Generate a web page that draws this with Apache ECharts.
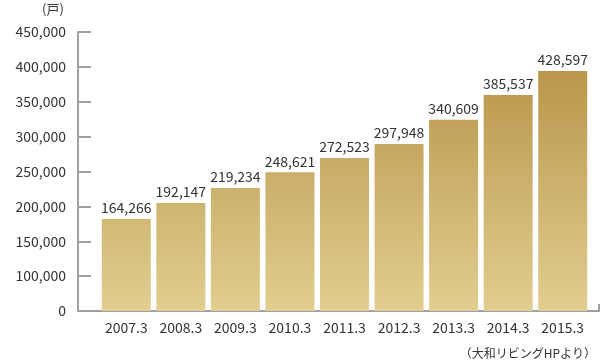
<!DOCTYPE html>
<html><head><meta charset="utf-8">
<script src="https://cdn.jsdelivr.net/npm/echarts@6/dist/echarts.min.js"></script>
<style>html,body{margin:0;padding:0;background:#fff}#c{width:610px;height:364px}</style>
</head><body><div id="c"></div>
<script>
var categories = ['2007.3','2008.3','2009.3','2010.3','2011.3','2012.3','2013.3','2014.3','2015.3'];
var barHeights = [181900, 204800, 226300, 248900, 269400, 289400, 324300, 359700, 394100];
var barLabels = ['164,266','192,147','219,234','248,621','272,523','297,948','340,609','385,537','428,597'];
var yMin = 50000, yMax = 450000, yStep = 50000;
var yTickLabels = ['0','100,000','150,000','200,000','250,000','300,000','350,000','400,000','450,000'];
var unitText = '(戸)';
var sourceText = '（大和リビングHPより）';

var FONT = '"Noto Sans CJK JP", "Noto Sans", sans-serif';
var chart = echarts.init(document.getElementById('c'), null, {renderer:'canvas'});
var gridTop = 32, gridBottom = 53;
chart.setOption({
  animation: false,
  textStyle: {fontFamily: FONT},
  grid: [
    {left: 99, right: 20, top: gridTop, bottom: gridBottom},
    {left: 78, right: 11, top: gridTop, bottom: gridBottom}
  ],
  xAxis: [
    {gridIndex: 0, type: 'category', data: categories,
     axisLine: {show: false}, axisTick: {show: false},
     axisLabel: {color: '#333', fontSize: 14, margin: 10, fontFamily: FONT, interval: 0, hideOverlap: false}},
    {gridIndex: 1, type: 'value', min: 0, max: 1, interval: 1,
     axisLine: {show: true, lineStyle: {color: '#a0a0a0', width: 2}},
     axisTick: {show: true, inside: true, length: 7, lineStyle: {color: '#a0a0a0', width: 2}},
     axisLabel: {show: false}, splitLine: {show: false}}
  ],
  yAxis: [
    {gridIndex: 0, type: 'value', min: yMin, max: yMax, interval: yStep, show: false},
    {gridIndex: 1, type: 'value', min: yMin, max: yMax, interval: yStep,
     axisLine: {show: true, lineStyle: {color: '#a0a0a0', width: 2}},
     axisTick: {show: true, inside: true, length: 13, lineStyle: {color: '#a0a0a0', width: 2}},
     splitLine: {show: false},
     axisLabel: {color: '#333', fontSize: 14, margin: 12, fontFamily: FONT,
       formatter: function(v){ return yTickLabels[Math.round((v - yMin) / yStep)]; }}}
  ],
  series: [{
    type: 'bar', xAxisIndex: 0, yAxisIndex: 0,
    data: barHeights, barWidth: 49,
    itemStyle: {color: new echarts.graphic.LinearGradient(0, gridTop, 0, 364 - gridBottom, [
      {offset: 0, color: '#b38d40'},
      {offset: 1, color: '#e1ce90'}
    ], true)},
    label: {show: true, position: 'top', distance: 4, color: '#333', fontSize: 14, fontFamily: FONT,
      formatter: function(p){ return barLabels[p.dataIndex]; }}
  }],
  graphic: [
    {type: 'text', left: 42, top: 3, style: {text: unitText, fontSize: 13, fill: '#333', fontFamily: FONT}},
    {type: 'text', right: 14, top: 347, style: {text: sourceText, fontSize: 12, fill: '#333', fontFamily: FONT}}
  ]
});
</script></body></html>
